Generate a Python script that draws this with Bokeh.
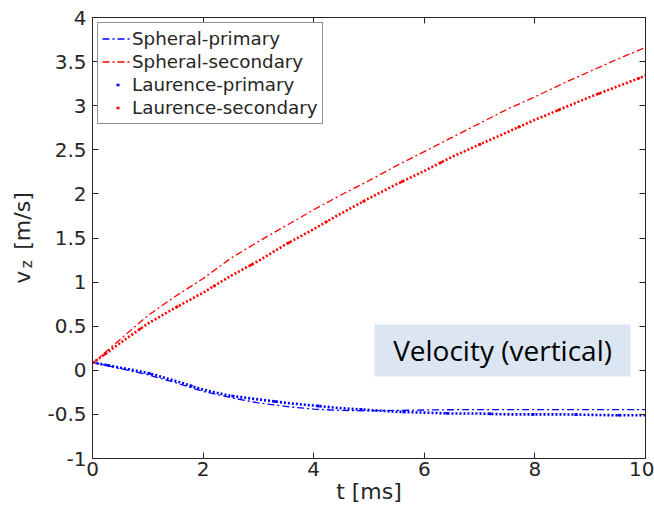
from bokeh.plotting import figure
from bokeh.models import (LinearAxis, Legend, LegendItem, Label, BoxAnnotation,
                          FixedTicker, Range1d)
from bokeh.embed import file_html
from bokeh.resources import INLINE

# ---------------- data ----------------
t_ms = [0, 0.5, 1, 1.5, 2, 2.5, 3, 3.5, 4, 4.5, 5, 5.5, 6, 6.5, 7, 7.5, 8, 8.5, 9, 9.5, 10]

spheral_primary = [0.09, 0.02, -0.05, -0.14, -0.24, -0.31, -0.37, -0.41, -0.44, -0.455, -0.46,
                   -0.455, -0.45, -0.447, -0.445, -0.445, -0.445, -0.445, -0.445, -0.445, -0.445]
spheral_secondary = [0.08, 0.35, 0.62, 0.84, 1.04, 1.27, 1.46, 1.64, 1.82, 1.99, 2.15,
                     2.32, 2.48, 2.64, 2.80, 2.96, 3.10, 3.25, 3.39, 3.53, 3.66]
laurence_primary = [0.09, 0.03, -0.03, -0.12, -0.22, -0.29, -0.33, -0.37, -0.40, -0.43, -0.45,
                    -0.47, -0.48, -0.49, -0.49, -0.50, -0.50, -0.50, -0.505, -0.51, -0.51]
laurence_secondary = [0.08, 0.31, 0.53, 0.71, 0.88, 1.07, 1.24, 1.43, 1.60, 1.78, 1.95,
                      2.11, 2.26, 2.42, 2.56, 2.70, 2.84, 2.97, 3.10, 3.22, 3.34]

series_names = ["Spheral-primary", "Spheral-secondary", "Laurence-primary", "Laurence-secondary"]

x_ticks = [0, 2, 4, 6, 8, 10]
x_tick_labels = ["0", "2", "4", "6", "8", "10"]
y_ticks = [-1, -0.5, 0, 0.5, 1, 1.5, 2, 2.5, 3, 3.5, 4]
y_tick_labels = ["-1", "-0.5", "0", "0.5", "1", "1.5", "2", "2.5", "3", "3.5", "4"]

x_label = "t [ms]"
y_label_main = "v"
y_label_sub = "z"
y_label_unit = "[m/s]"
annotation_text = "Velocity (vertical)"

# ---------------- styles ----------------
FONT = "DejaVu Sans"
AX_COLOR = "#262626"
BLUE = "#0000ff"
RED = "#ff0000"
NBSP = "\u00a0"

p = figure(frame_width=553, frame_height=441,
           x_range=Range1d(0, 10), y_range=Range1d(-1, 4),
           output_backend="svg", toolbar_location=None,
           min_border_left=92, min_border_right=9, min_border_top=17, min_border_bottom=54,
           background_fill_color="white", border_fill_color="white")
p.grid.visible = False
p.outline_line_color = AX_COLOR
p.outline_line_width = 1


def style_axis(ax, ticks, labels, show_labels=True):
    ax.ticker = FixedTicker(ticks=ticks)
    ax.major_tick_in = 6
    ax.major_tick_out = 0
    ax.minor_tick_in = 0
    ax.minor_tick_out = 0
    ax.axis_line_color = AX_COLOR
    ax.major_tick_line_color = AX_COLOR
    ax.major_label_text_font = FONT
    ax.major_label_text_color = AX_COLOR
    ax.major_label_text_font_size = "20px"
    ax.axis_label_text_font = FONT
    ax.axis_label_text_font_style = "normal"
    ax.axis_label_text_color = AX_COLOR
    if show_labels:
        ax.major_label_overrides = {tk: lb for tk, lb in zip(ticks, labels)}
    else:
        ax.major_label_overrides = {tk: "" for tk in ticks}
        ax.major_label_standoff = 0


style_axis(p.xaxis[0], x_ticks, x_tick_labels)
style_axis(p.yaxis[0], y_ticks, y_tick_labels)
p.xaxis[0].major_label_standoff = 3
p.yaxis[0].major_label_standoff = 6
p.xaxis[0].axis_label = x_label
p.xaxis[0].axis_label_text_font_size = "22px"
p.xaxis[0].axis_label_standoff = 0

# subscript "z" as the inner y-axis label (shifted down with no-break spaces)
p.yaxis[0].axis_label = y_label_sub + NBSP * 11
p.yaxis[0].axis_label_text_font_size = "15px"
p.yaxis[0].axis_label_standoff = 8

# "v  [m/s]" on an outer left axis without ticks
outer = LinearAxis(ticker=FixedTicker(ticks=[]), axis_line_color=None,
                   major_tick_in=0, major_tick_out=0, minor_tick_in=0, minor_tick_out=0,
                   major_label_standoff=0)
outer.axis_label = y_label_main + NBSP * 3 + y_label_unit
outer.axis_label_text_font = FONT
outer.axis_label_text_font_size = "22px"
outer.axis_label_text_font_style = "normal"
outer.axis_label_text_color = AX_COLOR
outer.axis_label_standoff = -19
p.add_layout(outer, "left")

top_axis = LinearAxis()
style_axis(top_axis, x_ticks, x_tick_labels, show_labels=False)
p.add_layout(top_axis, "above")
right_axis = LinearAxis()
style_axis(right_axis, y_ticks, y_tick_labels, show_labels=False)
p.add_layout(right_axis, "right")

# ---------------- annotation box ----------------
box = BoxAnnotation(left=5.10, right=9.73, bottom=-0.07, top=0.52,
                    fill_color="#dce6f2", fill_alpha=1.0, line_color=None, level="underlay")
p.add_layout(box)
p.add_layout(Label(x=7.415, y=0.225, text=annotation_text, text_align="center",
                   text_baseline="middle", text_font="Open Sans", text_font_size="28px",
                   text_color="black"))

# ---------------- series ----------------
r_sp = p.line(t_ms, spheral_primary, line_color=BLUE, line_width=1.3, line_dash="7 3 2 3")
r_ss = p.line(t_ms, spheral_secondary, line_color=RED, line_width=1.3, line_dash="7 3 2 3")
p.line(t_ms, laurence_primary, line_color=BLUE, line_width=2.6, line_dash="2 2")
p.line(t_ms, laurence_secondary, line_color=RED, line_width=2.6, line_dash="2 2")
# sparse single-dot pattern: used as the legend glyph (one dot)
r_lp = p.line(t_ms, laurence_primary, line_color=BLUE, line_width=2.6,
              line_dash="3 40", line_dash_offset=29)
r_ls = p.line(t_ms, laurence_secondary, line_color=RED, line_width=2.6,
              line_dash="3 40", line_dash_offset=29)

legend = Legend(items=[LegendItem(label=series_names[0], renderers=[r_sp]),
                       LegendItem(label=series_names[1], renderers=[r_ss]),
                       LegendItem(label=series_names[2], renderers=[r_lp]),
                       LegendItem(label=series_names[3], renderers=[r_ls])],
                location="top_left")
legend.margin = 5
legend.padding = 4
legend.spacing = 0
legend.glyph_width = 28
legend.glyph_height = 23
legend.label_height = 23
legend.label_standoff = 2
legend.label_text_font = FONT
legend.label_text_font_size = "18.3px"
legend.label_text_color = AX_COLOR
legend.border_line_color = AX_COLOR
legend.border_line_width = 1
legend.background_fill_alpha = 1
p.add_layout(legend)

open("out.html", "w").write(file_html(p, INLINE))
